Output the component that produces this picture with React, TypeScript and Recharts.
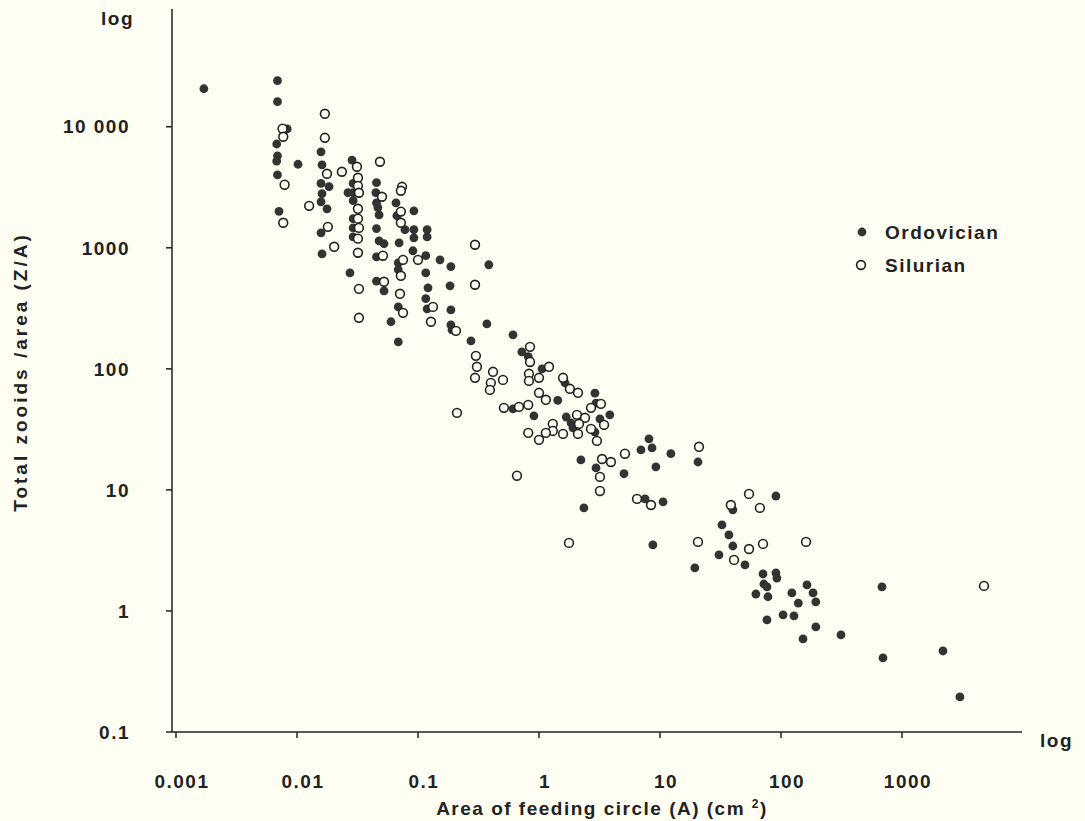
import React from 'react';
import { ScatterChart, Scatter, XAxis, YAxis } from 'recharts';

// [area of feeding circle (cm2), total zooids / area]
const ordovician: [number, number][] = [
  [0.0017, 20600], [0.0069, 24000], [0.0069, 16100], [0.0083, 9600], [0.0068, 7200],
  [0.0069, 5750], [0.0068, 5200], [0.0102, 4900], [0.0069, 4000], [0.0071, 2000],
  [0.0158, 6200], [0.0161, 4850], [0.0158, 3400], [0.0184, 3200], [0.0161, 2800],
  [0.0158, 2400], [0.0177, 2100], [0.0158, 1330], [0.0161, 890], [0.0274, 620],
  [0.0285, 5300], [0.0454, 3450], [0.0291, 3400], [0.0264, 2850], [0.0291, 2850],
  [0.0449, 2850], [0.0291, 2450], [0.0658, 2350], [0.0454, 2350], [0.0466, 2150],
  [0.0477, 1870], [0.0669, 1840], [0.0925, 2020], [0.0291, 1740], [0.0291, 1460],
  [0.0454, 1440], [0.078, 1410], [0.0925, 1410], [0.0925, 1210], [0.119, 1410],
  [0.119, 1230], [0.0291, 1230], [0.0477, 1140], [0.0524, 1080], [0.0698, 1100],
  [0.0908, 945], [0.116, 860], [0.0454, 840], [0.152, 795], [0.0687, 750],
  [0.187, 700], [0.0687, 660], [0.116, 620], [0.0454, 530], [0.0524, 440],
  [0.184, 485], [0.121, 467], [0.116, 380], [0.0687, 325], [0.119, 313],
  [0.187, 307], [0.0598, 245], [0.187, 231], [0.191, 210], [0.0687, 167],
  [0.385, 724], [0.371, 235], [0.61, 191], [0.274, 170], [0.722, 138],
  [0.815, 126], [1.06, 100], [1.64, 76.6], [2.9, 63], [1.43, 55],
  [2.96, 52], [3.85, 41.7], [3.19, 38.6], [0.61, 46.7], [0.908, 40.9],
  [1.68, 40], [1.84, 35.8], [1.91, 32.5], [2.9, 30], [8.11, 26.4],
  [6.96, 21.4], [8.59, 22.2], [12.3, 19.9], [2.22, 17.7], [9.25, 15.5],
  [2.96, 15.2], [5.04, 13.6], [20.6, 17.0], [7.52, 8.43], [10.6, 7.95],
  [2.35, 7.1], [90.8, 8.9], [40, 6.84], [32.5, 5.14], [37.1, 4.25],
  [40, 3.44], [30.7, 2.9], [50.4, 2.4], [8.73, 3.51], [19.4, 2.27],
  [71, 2.02], [90.8, 2.06], [92.5, 1.87], [72.2, 1.67], [76.6, 1.58],
  [164, 1.64], [62, 1.38], [78, 1.31], [123, 1.41], [184, 1.41],
  [139, 1.16], [194, 1.19], [683, 1.58], [76.6, 0.843], [104, 0.927],
  [128, 0.91], [194, 0.738], [152, 0.587], [313, 0.634], [696, 0.409],
  [2180, 0.467], [3010, 0.195],
];

const silurian: [number, number][] = [
  [0.0076, 9630], [0.0077, 8270], [0.0079, 3320], [0.0077, 1610], [0.017, 12800],
  [0.017, 8100], [0.0177, 4090], [0.0235, 4250], [0.0126, 2220], [0.018, 1490],
  [0.0203, 1020], [0.0313, 4670], [0.0485, 5140], [0.0319, 3790], [0.0738, 3190],
  [0.0722, 2960], [0.0319, 3250], [0.0325, 2850], [0.0504, 2640], [0.0319, 2100],
  [0.0722, 1990], [0.0319, 1740], [0.0722, 1610], [0.0325, 1460], [0.0319, 1190],
  [0.0319, 910], [0.0513, 860], [0.1, 795], [0.0752, 795], [0.0722, 587],
  [0.0524, 524], [0.0325, 458], [0.071, 417], [0.0752, 290], [0.133, 325],
  [0.0325, 264], [0.128, 245], [0.206, 206], [0.296, 1060], [0.296, 495],
  [0.843, 152], [0.843, 114], [0.301, 128], [0.307, 104], [0.296, 84.3],
  [0.417, 94.5], [1.21, 104], [0.826, 91], [0.826, 79.5], [1.0, 84.3],
  [0.504, 81], [0.4, 76.6], [0.393, 67], [1.58, 84.3], [1.8, 68.4],
  [2.1, 63.4], [1.0, 63.4], [1.14, 55.5], [3.25, 51.4], [2.69, 47.6],
  [3.45, 34.4], [0.513, 47.6], [0.683, 48.5], [0.815, 50.4], [0.21, 43.3],
  [2.06, 41.7], [2.4, 39.4], [2.14, 35.1], [1.3, 35.1], [1.3, 30.7],
  [1.14, 29.6], [1.58, 29], [0.815, 29.6], [1.0, 25.9], [2.1, 29],
  [2.69, 31.9], [3.01, 25.4], [5.13, 19.9], [3.32, 18], [3.93, 17],
  [3.19, 12.8], [0.658, 13.1], [21, 22.7], [3.19, 9.8], [6.46, 8.43],
  [8.43, 7.5], [54.4, 9.27], [38.5, 7.5], [66.9, 7.1], [54.4, 3.25],
  [71, 3.58], [161, 3.72], [40.9, 2.64], [1.77, 3.65], [20.6, 3.72],
  [4760, 1.61],
];

const xTicks = [0.001, 0.01, 0.1, 1, 10, 100, 1000];
const yTicks = [0.1, 1, 10, 100, 1000, 10000];
const yTickLabels = ['0.1', '1', '10', '100', '1000', '10 000'];

const xDomain = [0.000927, 9810];
const yDomain = [0.1, 93900];

const INK = '#222';
const BG = '#fefef3';
const FONT = '"Liberation Sans", Arial, sans-serif';

const ordData = ordovician.map(([x, y]) => ({ x, y }));
const silData = silurian.map(([x, y]) => ({ x, y }));

const FilledDot = (props: any) => (
  <circle cx={props.cx} cy={props.cy} r={4.4} fill="#333" />
);
const OpenDot = (props: any) => (
  <circle cx={props.cx} cy={props.cy} r={4.4} fill={BG} stroke={INK} strokeWidth={1.6} />
);

const XTick = (props: any) => {
  const { x, payload } = props;
  return (
    <text
      x={x + 6}
      y={781}
      textAnchor="middle"
      dominantBaseline="central"
      fill={INK}
      fontSize={19}
      fontWeight="bold"
      fontFamily={FONT}
      letterSpacing={1.5}
    >
      {String(payload.value)}
    </text>
  );
};

const legendItems = [
  { name: 'Ordovician', open: false },
  { name: 'Silurian', open: true },
];

const textStyle: React.CSSProperties = {
  position: 'absolute',
  fontFamily: FONT,
  fontWeight: 'bold',
  fontSize: 19,
  color: INK,
  letterSpacing: 1.5,
  whiteSpace: 'nowrap',
  lineHeight: 1,
};

export default function App() {
  return (
    <div style={{ position: 'absolute', left: 0, top: 0, width: 1085, height: 821, background: BG }}>
      <ScatterChart width={1085} height={821} margin={{ top: 9, right: 63, bottom: 29, left: 0 }}>
        <XAxis
          type="number"
          dataKey="x"
          scale="log"
          domain={xDomain}
          ticks={xTicks}
          allowDataOverflow
          height={60}
          stroke={INK}
          strokeWidth={1.5}
          tickSize={6}
          tick={<XTick />}
          interval={0}
        />
        <YAxis
          type="number"
          dataKey="y"
          scale="log"
          domain={yDomain}
          ticks={yTicks}
          allowDataOverflow
          width={172}
          stroke={INK}
          strokeWidth={1.5}
          tickSize={6}
          tickMargin={36}
          interval={0}
          tick={{ fill: INK, fontSize: 19, fontWeight: 'bold', fontFamily: FONT, letterSpacing: 1.5 }}
          tickFormatter={(v: number) => yTickLabels[yTicks.indexOf(v)] ?? String(v)}
        />
        <Scatter name="Ordovician" data={ordData} shape={<FilledDot />} isAnimationActive={false} />
        <Scatter name="Silurian" data={silData} shape={<OpenDot />} isAnimationActive={false} />
      </ScatterChart>

      {/* legend */}
      <div style={{ ...textStyle, left: 852, top: 215.5 }}>
        {legendItems.map((item) => (
          <div key={item.name} style={{ display: 'flex', alignItems: 'center', height: 33 }}>
            <svg width={20} height={20} style={{ marginRight: 13 }}>
              {item.open ? (
                <circle cx={9} cy={10} r={4.4} fill={BG} stroke={INK} strokeWidth={1.6} />
              ) : (
                <circle cx={10} cy={10} r={4.4} fill="#333" />
              )}
            </svg>
            <span>{item.name}</span>
          </div>
        ))}
      </div>

      <div style={{ ...textStyle, right: 1085 - 134, top: 9 }}>log</div>
      <div style={{ ...textStyle, left: 1040, top: 731 }}>log</div>
      <div
        style={{
          ...textStyle,
          left: 20,
          top: 372,
          letterSpacing: 3,
          transform: 'translate(-50%, -50%) rotate(-90deg)',
        }}
      >
        Total zooids /area (Z/A)
      </div>
      <div style={{ ...textStyle, left: 602, top: 798, transform: 'translateX(-50%)' }}>
        Area of feeding circle (A) (cm <sup style={{ fontSize: 12 }}>2</sup>)
      </div>
    </div>
  );
}
